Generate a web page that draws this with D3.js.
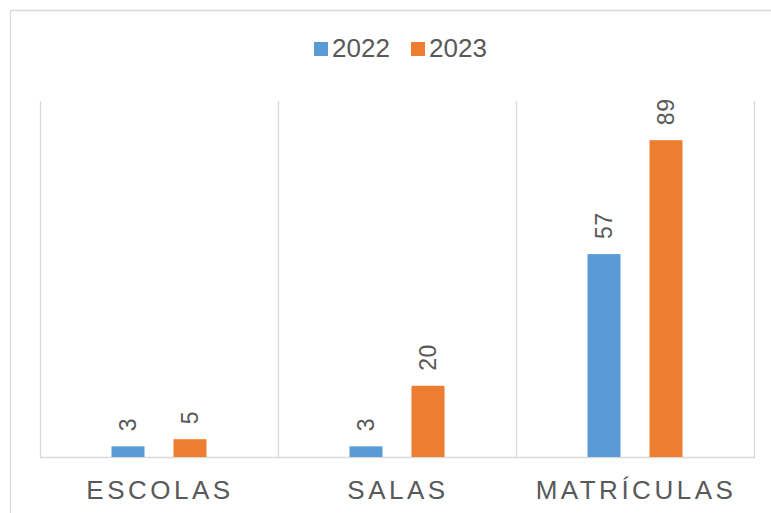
<!DOCTYPE html>
<html>
<head>
<meta charset="utf-8">
<script src="https://cdn.jsdelivr.net/npm/d3@7"></script>
<style>
  body { margin: 0; background: #fff; }
  text { font-family: "Liberation Sans", Arial, sans-serif; fill: #595959; }
</style>
</head>
<body>
<div id="chart"></div>
<script>
// Chart data
var categories = ['ESCOLAS', 'SALAS', 'MATRÍCULAS'];
var seriesNames = ['2022', '2023'];
var values2022 = [3, 3, 57];
var values2023 = [5, 20, 89];
var seriesColors = ['#5B9BD5', '#ED7D31'];

var svgWidth = 771, svgHeight = 513;
var margin = { top: 101, bottom: 56, left: 40, right: 17 };
var width = svgWidth - margin.left - margin.right;
var height = svgHeight - margin.top - margin.bottom;

var svg = d3.select('#chart')
    .append('svg')
    .attr('width', svgWidth)
    .attr('height', svgHeight);

// outer chart border (runs off the right / bottom edge)
svg.append('path')
    .attr('d', 'M10.5,' + svgHeight + 'V10.5H' + svgWidth)
    .attr('fill', 'none')
    .attr('stroke', '#D9D9D9')
    .attr('stroke-width', 1.3);

var chartGroup = svg.append('g')
    .attr('transform', `translate(${margin.left}, ${margin.top})`);

// Scales
var x0 = d3.scaleBand().domain(categories).range([0, width]).padding(0);
var x1 = d3.scaleBand().domain(seriesNames)
    .range([71.5, 166.5])
    .paddingInner(29 / 62)
    .paddingOuter(0);
var y = d3.scaleLinear().domain([0, 100]).range([height, 0]);

// vertical gridlines at category boundaries
var bounds = categories.map(function(c) { return x0(c); }).concat([width]);
chartGroup.selectAll('.grid')
    .data(bounds)
    .enter()
    .append('line')
    .attr('x1', d => d + 0.5).attr('x2', d => d + 0.5)
    .attr('y1', 0).attr('y2', height)
    .attr('stroke', '#D9D9D9')
    .attr('stroke-width', 1.3);

// baseline
chartGroup.append('line')
    .attr('x1', 0).attr('x2', width + 1)
    .attr('y1', height + 0.5).attr('y2', height + 0.5)
    .attr('stroke', '#D9D9D9')
    .attr('stroke-width', 1.3);

// bars
var rows = categories.map(function(c, i) {
    return { cat: c, vals: [values2022[i], values2023[i]] };
});

var catGroups = chartGroup.selectAll('.cat')
    .data(rows)
    .enter()
    .append('g')
    .attr('transform', d => `translate(${x0(d.cat)}, 0)`);

catGroups.selectAll('rect')
    .data(d => d.vals.map(function(v, j) { return { s: seriesNames[j], v: v, c: seriesColors[j] }; }))
    .enter()
    .append('rect')
    .attr('x', d => x1(d.s))
    .attr('y', d => y(d.v))
    .attr('width', x1.bandwidth())
    .attr('height', d => height - y(d.v))
    .attr('fill', d => d.c);

// rotated value labels
catGroups.selectAll('.val')
    .data(d => d.vals.map(function(v, j) { return { s: seriesNames[j], v: v }; }))
    .enter()
    .append('text')
    .attr('transform', d => `translate(${x1(d.s) + x1.bandwidth() / 2}, ${y(d.v) - 15}) rotate(-90)`)
    .attr('dy', '0.35em')
    .attr('text-anchor', 'start')
    .style('font-size', '23px')
    .style('letter-spacing', '0.5px')
    .text(d => d.v);

// category labels
chartGroup.selectAll('.catLabel')
    .data(categories)
    .enter()
    .append('text')
    .attr('x', d => x0(d) + x0.bandwidth() / 2 + 1)
    .attr('y', height + 42)
    .attr('text-anchor', 'middle')
    .style('font-size', '26px')
    .style('letter-spacing', '3.5px')
    .text(d => d);

// legend
var legendX = [314, 411];
var legend = svg.selectAll('.legend')
    .data(seriesNames)
    .enter()
    .append('g')
    .attr('transform', (d, i) => `translate(${legendX[i]}, 42)`);

legend.append('rect')
    .attr('width', 14).attr('height', 14)
    .attr('fill', (d, i) => seriesColors[i]);

legend.append('text')
    .attr('x', 18)
    .attr('y', 15)
    .style('font-size', '26px')
    .text(d => d);
</script>
</body>
</html>
